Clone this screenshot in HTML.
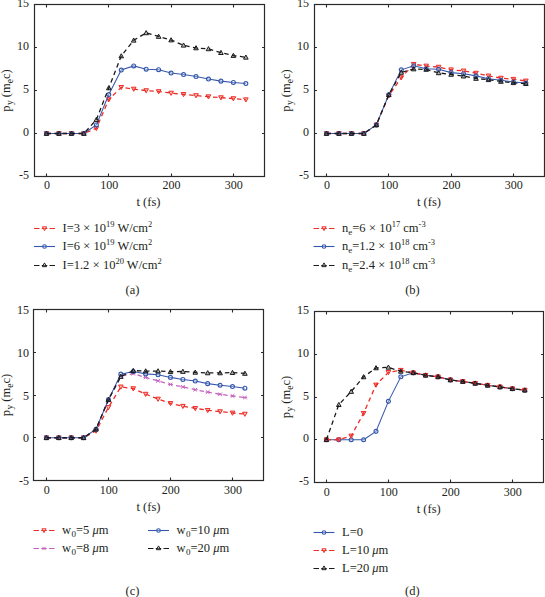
<!DOCTYPE html>
<html><head><meta charset="utf-8"><style>
html,body{margin:0;padding:0;background:#fff;}
body{width:545px;height:597px;overflow:hidden;}
svg{display:block;}
text{font-family:"Liberation Serif",serif;fill:#231f20;}
.tl{font-size:12px;}
.al{font-size:12.5px;}
.lg{font-size:12.5px;}
</style></head><body>
<svg width="545" height="597" viewBox="0 0 545 597">
<polyline points="46.50,133.50 58.96,133.50 71.42,133.50 83.88,133.50 96.34,128.34 108.80,99.53 121.26,87.32 133.72,89.04 146.18,90.59 158.64,91.53 171.10,93.08 183.56,94.37 196.02,95.57 208.48,96.69 220.94,97.64 233.40,98.58 245.86,99.70" fill="none" stroke="#ee2b24" stroke-width="1.3" stroke-dasharray="4.5 3.5"/>
<path d="M46.50 135.80L48.80 131.66L44.20 131.66Z" fill="#ee2b24" fill-opacity="0.30" stroke="#ee2b24" stroke-width="1"/>
<path d="M58.96 135.80L61.26 131.66L56.66 131.66Z" fill="#ee2b24" fill-opacity="0.30" stroke="#ee2b24" stroke-width="1"/>
<path d="M71.42 135.80L73.72 131.66L69.12 131.66Z" fill="#ee2b24" fill-opacity="0.30" stroke="#ee2b24" stroke-width="1"/>
<path d="M83.88 135.80L86.18 131.66L81.58 131.66Z" fill="#ee2b24" fill-opacity="0.30" stroke="#ee2b24" stroke-width="1"/>
<path d="M96.34 130.64L98.64 126.50L94.04 126.50Z" fill="#ee2b24" fill-opacity="0.30" stroke="#ee2b24" stroke-width="1"/>
<path d="M108.80 101.83L111.10 97.69L106.50 97.69Z" fill="#ee2b24" fill-opacity="0.30" stroke="#ee2b24" stroke-width="1"/>
<path d="M121.26 89.62L123.56 85.48L118.96 85.48Z" fill="#ee2b24" fill-opacity="0.30" stroke="#ee2b24" stroke-width="1"/>
<path d="M133.72 91.34L136.02 87.20L131.42 87.20Z" fill="#ee2b24" fill-opacity="0.30" stroke="#ee2b24" stroke-width="1"/>
<path d="M146.18 92.89L148.48 88.75L143.88 88.75Z" fill="#ee2b24" fill-opacity="0.30" stroke="#ee2b24" stroke-width="1"/>
<path d="M158.64 93.83L160.94 89.69L156.34 89.69Z" fill="#ee2b24" fill-opacity="0.30" stroke="#ee2b24" stroke-width="1"/>
<path d="M171.10 95.38L173.40 91.24L168.80 91.24Z" fill="#ee2b24" fill-opacity="0.30" stroke="#ee2b24" stroke-width="1"/>
<path d="M183.56 96.67L185.86 92.53L181.26 92.53Z" fill="#ee2b24" fill-opacity="0.30" stroke="#ee2b24" stroke-width="1"/>
<path d="M196.02 97.87L198.32 93.73L193.72 93.73Z" fill="#ee2b24" fill-opacity="0.30" stroke="#ee2b24" stroke-width="1"/>
<path d="M208.48 98.99L210.78 94.85L206.18 94.85Z" fill="#ee2b24" fill-opacity="0.30" stroke="#ee2b24" stroke-width="1"/>
<path d="M220.94 99.94L223.24 95.80L218.64 95.80Z" fill="#ee2b24" fill-opacity="0.30" stroke="#ee2b24" stroke-width="1"/>
<path d="M233.40 100.88L235.70 96.74L231.10 96.74Z" fill="#ee2b24" fill-opacity="0.30" stroke="#ee2b24" stroke-width="1"/>
<path d="M245.86 102.00L248.16 97.86L243.56 97.86Z" fill="#ee2b24" fill-opacity="0.30" stroke="#ee2b24" stroke-width="1"/>
<polyline points="46.50,133.50 58.96,133.50 71.42,133.50 83.88,133.50 96.34,124.90 108.80,94.54 121.26,70.03 133.72,65.90 146.18,69.17 158.64,69.69 171.10,73.04 183.56,74.50 196.02,76.57 208.48,79.06 220.94,81.13 233.40,82.42 245.86,83.53" fill="none" stroke="#3558ac" stroke-width="1.05"/>
<circle cx="46.50" cy="133.50" r="1.95" fill="white" fill-opacity="0.30" stroke="#3558ac" stroke-width="1.15"/>
<circle cx="58.96" cy="133.50" r="1.95" fill="white" fill-opacity="0.30" stroke="#3558ac" stroke-width="1.15"/>
<circle cx="71.42" cy="133.50" r="1.95" fill="white" fill-opacity="0.30" stroke="#3558ac" stroke-width="1.15"/>
<circle cx="83.88" cy="133.50" r="1.95" fill="white" fill-opacity="0.30" stroke="#3558ac" stroke-width="1.15"/>
<circle cx="96.34" cy="124.90" r="1.95" fill="white" fill-opacity="0.30" stroke="#3558ac" stroke-width="1.15"/>
<circle cx="108.80" cy="94.54" r="1.95" fill="white" fill-opacity="0.30" stroke="#3558ac" stroke-width="1.15"/>
<circle cx="121.26" cy="70.03" r="1.95" fill="white" fill-opacity="0.30" stroke="#3558ac" stroke-width="1.15"/>
<circle cx="133.72" cy="65.90" r="1.95" fill="white" fill-opacity="0.30" stroke="#3558ac" stroke-width="1.15"/>
<circle cx="146.18" cy="69.17" r="1.95" fill="white" fill-opacity="0.30" stroke="#3558ac" stroke-width="1.15"/>
<circle cx="158.64" cy="69.69" r="1.95" fill="white" fill-opacity="0.30" stroke="#3558ac" stroke-width="1.15"/>
<circle cx="171.10" cy="73.04" r="1.95" fill="white" fill-opacity="0.30" stroke="#3558ac" stroke-width="1.15"/>
<circle cx="183.56" cy="74.50" r="1.95" fill="white" fill-opacity="0.30" stroke="#3558ac" stroke-width="1.15"/>
<circle cx="196.02" cy="76.57" r="1.95" fill="white" fill-opacity="0.30" stroke="#3558ac" stroke-width="1.15"/>
<circle cx="208.48" cy="79.06" r="1.95" fill="white" fill-opacity="0.30" stroke="#3558ac" stroke-width="1.15"/>
<circle cx="220.94" cy="81.13" r="1.95" fill="white" fill-opacity="0.30" stroke="#3558ac" stroke-width="1.15"/>
<circle cx="233.40" cy="82.42" r="1.95" fill="white" fill-opacity="0.30" stroke="#3558ac" stroke-width="1.15"/>
<circle cx="245.86" cy="83.53" r="1.95" fill="white" fill-opacity="0.30" stroke="#3558ac" stroke-width="1.15"/>
<polyline points="46.50,133.50 58.96,133.50 71.42,133.50 83.88,133.50 96.34,119.74 108.80,87.92 121.26,56.01 133.72,40.28 146.18,32.88 158.64,36.49 171.10,40.02 183.56,45.26 196.02,47.93 208.48,48.88 220.94,52.66 233.40,55.58 245.86,57.30" fill="none" stroke="#1a1a1a" stroke-width="1.3" stroke-dasharray="4.5 3.5"/>
<path d="M46.50 131.20L48.80 135.34L44.20 135.34Z" fill="#1a1a1a" fill-opacity="0.30" stroke="#1a1a1a" stroke-width="1"/>
<path d="M58.96 131.20L61.26 135.34L56.66 135.34Z" fill="#1a1a1a" fill-opacity="0.30" stroke="#1a1a1a" stroke-width="1"/>
<path d="M71.42 131.20L73.72 135.34L69.12 135.34Z" fill="#1a1a1a" fill-opacity="0.30" stroke="#1a1a1a" stroke-width="1"/>
<path d="M83.88 131.20L86.18 135.34L81.58 135.34Z" fill="#1a1a1a" fill-opacity="0.30" stroke="#1a1a1a" stroke-width="1"/>
<path d="M96.34 117.44L98.64 121.58L94.04 121.58Z" fill="#1a1a1a" fill-opacity="0.30" stroke="#1a1a1a" stroke-width="1"/>
<path d="M108.80 85.62L111.10 89.76L106.50 89.76Z" fill="#1a1a1a" fill-opacity="0.30" stroke="#1a1a1a" stroke-width="1"/>
<path d="M121.26 53.71L123.56 57.85L118.96 57.85Z" fill="#1a1a1a" fill-opacity="0.30" stroke="#1a1a1a" stroke-width="1"/>
<path d="M133.72 37.98L136.02 42.12L131.42 42.12Z" fill="#1a1a1a" fill-opacity="0.30" stroke="#1a1a1a" stroke-width="1"/>
<path d="M146.18 30.58L148.48 34.72L143.88 34.72Z" fill="#1a1a1a" fill-opacity="0.30" stroke="#1a1a1a" stroke-width="1"/>
<path d="M158.64 34.19L160.94 38.33L156.34 38.33Z" fill="#1a1a1a" fill-opacity="0.30" stroke="#1a1a1a" stroke-width="1"/>
<path d="M171.10 37.72L173.40 41.86L168.80 41.86Z" fill="#1a1a1a" fill-opacity="0.30" stroke="#1a1a1a" stroke-width="1"/>
<path d="M183.56 42.96L185.86 47.10L181.26 47.10Z" fill="#1a1a1a" fill-opacity="0.30" stroke="#1a1a1a" stroke-width="1"/>
<path d="M196.02 45.63L198.32 49.77L193.72 49.77Z" fill="#1a1a1a" fill-opacity="0.30" stroke="#1a1a1a" stroke-width="1"/>
<path d="M208.48 46.58L210.78 50.72L206.18 50.72Z" fill="#1a1a1a" fill-opacity="0.30" stroke="#1a1a1a" stroke-width="1"/>
<path d="M220.94 50.36L223.24 54.50L218.64 54.50Z" fill="#1a1a1a" fill-opacity="0.30" stroke="#1a1a1a" stroke-width="1"/>
<path d="M233.40 53.28L235.70 57.42L231.10 57.42Z" fill="#1a1a1a" fill-opacity="0.30" stroke="#1a1a1a" stroke-width="1"/>
<path d="M245.86 55.00L248.16 59.14L243.56 59.14Z" fill="#1a1a1a" fill-opacity="0.30" stroke="#1a1a1a" stroke-width="1"/>
<rect x="34.5" y="4.5" width="230.0" height="172.0" fill="none" stroke="#2a2a2a" stroke-width="1.2"/>
<path d="M46.50 176.5v-3M46.50 4.5v3M108.50 176.5v-3M108.50 4.5v3M171.50 176.5v-3M171.50 4.5v3M233.50 176.5v-3M233.50 4.5v3M34.5 176.50h2.5M264.5 176.50h-2.5M34.5 133.50h2.5M264.5 133.50h-2.5M34.5 90.50h2.5M264.5 90.50h-2.5M34.5 47.50h2.5M264.5 47.50h-2.5M34.5 4.50h2.5M264.5 4.50h-2.5" stroke="#2a2a2a" stroke-width="1.1" fill="none"/>
<text x="46.90" y="189.0" text-anchor="middle" class="tl">0</text>
<text x="109.20" y="189.0" text-anchor="middle" class="tl">100</text>
<text x="171.50" y="189.0" text-anchor="middle" class="tl">200</text>
<text x="233.80" y="189.0" text-anchor="middle" class="tl">300</text>
<text x="29.0" y="179.00" text-anchor="end" class="tl">-5</text>
<text x="29.0" y="136.00" text-anchor="end" class="tl">0</text>
<text x="29.0" y="93.00" text-anchor="end" class="tl">5</text>
<text x="29.0" y="50.00" text-anchor="end" class="tl">10</text>
<text x="29.0" y="7.00" text-anchor="end" class="tl">15</text>
<polyline points="326.50,133.50 338.96,133.50 351.42,133.50 363.88,133.50 376.34,124.90 388.80,95.66 401.26,77.60 413.72,64.27 426.18,65.99 438.64,67.11 451.10,69.77 463.56,70.89 476.02,73.13 488.48,75.88 500.94,78.12 513.40,79.23 525.86,80.95" fill="none" stroke="#ee2b24" stroke-width="1.3" stroke-dasharray="4.5 3.5"/>
<path d="M326.50 135.80L328.80 131.66L324.20 131.66Z" fill="#ee2b24" fill-opacity="0.30" stroke="#ee2b24" stroke-width="1"/>
<path d="M338.96 135.80L341.26 131.66L336.66 131.66Z" fill="#ee2b24" fill-opacity="0.30" stroke="#ee2b24" stroke-width="1"/>
<path d="M351.42 135.80L353.72 131.66L349.12 131.66Z" fill="#ee2b24" fill-opacity="0.30" stroke="#ee2b24" stroke-width="1"/>
<path d="M363.88 135.80L366.18 131.66L361.58 131.66Z" fill="#ee2b24" fill-opacity="0.30" stroke="#ee2b24" stroke-width="1"/>
<path d="M376.34 127.20L378.64 123.06L374.04 123.06Z" fill="#ee2b24" fill-opacity="0.30" stroke="#ee2b24" stroke-width="1"/>
<path d="M388.80 97.96L391.10 93.82L386.50 93.82Z" fill="#ee2b24" fill-opacity="0.30" stroke="#ee2b24" stroke-width="1"/>
<path d="M401.26 79.90L403.56 75.76L398.96 75.76Z" fill="#ee2b24" fill-opacity="0.30" stroke="#ee2b24" stroke-width="1"/>
<path d="M413.72 66.57L416.02 62.43L411.42 62.43Z" fill="#ee2b24" fill-opacity="0.30" stroke="#ee2b24" stroke-width="1"/>
<path d="M426.18 68.29L428.48 64.15L423.88 64.15Z" fill="#ee2b24" fill-opacity="0.30" stroke="#ee2b24" stroke-width="1"/>
<path d="M438.64 69.41L440.94 65.27L436.34 65.27Z" fill="#ee2b24" fill-opacity="0.30" stroke="#ee2b24" stroke-width="1"/>
<path d="M451.10 72.07L453.40 67.93L448.80 67.93Z" fill="#ee2b24" fill-opacity="0.30" stroke="#ee2b24" stroke-width="1"/>
<path d="M463.56 73.19L465.86 69.05L461.26 69.05Z" fill="#ee2b24" fill-opacity="0.30" stroke="#ee2b24" stroke-width="1"/>
<path d="M476.02 75.43L478.32 71.29L473.72 71.29Z" fill="#ee2b24" fill-opacity="0.30" stroke="#ee2b24" stroke-width="1"/>
<path d="M488.48 78.18L490.78 74.04L486.18 74.04Z" fill="#ee2b24" fill-opacity="0.30" stroke="#ee2b24" stroke-width="1"/>
<path d="M500.94 80.42L503.24 76.28L498.64 76.28Z" fill="#ee2b24" fill-opacity="0.30" stroke="#ee2b24" stroke-width="1"/>
<path d="M513.40 81.53L515.70 77.39L511.10 77.39Z" fill="#ee2b24" fill-opacity="0.30" stroke="#ee2b24" stroke-width="1"/>
<path d="M525.86 83.25L528.16 79.11L523.56 79.11Z" fill="#ee2b24" fill-opacity="0.30" stroke="#ee2b24" stroke-width="1"/>
<polyline points="326.50,133.50 338.96,133.50 351.42,133.50 363.88,133.50 376.34,124.90 388.80,94.80 401.26,69.86 413.72,65.82 426.18,68.74 438.64,69.26 451.10,72.61 463.56,73.73 476.02,75.88 488.48,78.72 500.94,80.27 513.40,81.99 525.86,83.10" fill="none" stroke="#3558ac" stroke-width="1.05"/>
<circle cx="326.50" cy="133.50" r="1.95" fill="white" fill-opacity="0.30" stroke="#3558ac" stroke-width="1.15"/>
<circle cx="338.96" cy="133.50" r="1.95" fill="white" fill-opacity="0.30" stroke="#3558ac" stroke-width="1.15"/>
<circle cx="351.42" cy="133.50" r="1.95" fill="white" fill-opacity="0.30" stroke="#3558ac" stroke-width="1.15"/>
<circle cx="363.88" cy="133.50" r="1.95" fill="white" fill-opacity="0.30" stroke="#3558ac" stroke-width="1.15"/>
<circle cx="376.34" cy="124.90" r="1.95" fill="white" fill-opacity="0.30" stroke="#3558ac" stroke-width="1.15"/>
<circle cx="388.80" cy="94.80" r="1.95" fill="white" fill-opacity="0.30" stroke="#3558ac" stroke-width="1.15"/>
<circle cx="401.26" cy="69.86" r="1.95" fill="white" fill-opacity="0.30" stroke="#3558ac" stroke-width="1.15"/>
<circle cx="413.72" cy="65.82" r="1.95" fill="white" fill-opacity="0.30" stroke="#3558ac" stroke-width="1.15"/>
<circle cx="426.18" cy="68.74" r="1.95" fill="white" fill-opacity="0.30" stroke="#3558ac" stroke-width="1.15"/>
<circle cx="438.64" cy="69.26" r="1.95" fill="white" fill-opacity="0.30" stroke="#3558ac" stroke-width="1.15"/>
<circle cx="451.10" cy="72.61" r="1.95" fill="white" fill-opacity="0.30" stroke="#3558ac" stroke-width="1.15"/>
<circle cx="463.56" cy="73.73" r="1.95" fill="white" fill-opacity="0.30" stroke="#3558ac" stroke-width="1.15"/>
<circle cx="476.02" cy="75.88" r="1.95" fill="white" fill-opacity="0.30" stroke="#3558ac" stroke-width="1.15"/>
<circle cx="488.48" cy="78.72" r="1.95" fill="white" fill-opacity="0.30" stroke="#3558ac" stroke-width="1.15"/>
<circle cx="500.94" cy="80.27" r="1.95" fill="white" fill-opacity="0.30" stroke="#3558ac" stroke-width="1.15"/>
<circle cx="513.40" cy="81.99" r="1.95" fill="white" fill-opacity="0.30" stroke="#3558ac" stroke-width="1.15"/>
<circle cx="525.86" cy="83.10" r="1.95" fill="white" fill-opacity="0.30" stroke="#3558ac" stroke-width="1.15"/>
<polyline points="326.50,133.50 338.96,133.50 351.42,133.50 363.88,133.50 376.34,124.90 388.80,94.80 401.26,72.44 413.72,69.00 426.18,69.43 438.64,72.87 451.10,74.42 463.56,76.14 476.02,78.46 488.48,79.75 500.94,81.47 513.40,82.76 525.86,83.62" fill="none" stroke="#1a1a1a" stroke-width="1.3" stroke-dasharray="4.5 3.5"/>
<path d="M326.50 131.20L328.80 135.34L324.20 135.34Z" fill="#1a1a1a" fill-opacity="0.30" stroke="#1a1a1a" stroke-width="1"/>
<path d="M338.96 131.20L341.26 135.34L336.66 135.34Z" fill="#1a1a1a" fill-opacity="0.30" stroke="#1a1a1a" stroke-width="1"/>
<path d="M351.42 131.20L353.72 135.34L349.12 135.34Z" fill="#1a1a1a" fill-opacity="0.30" stroke="#1a1a1a" stroke-width="1"/>
<path d="M363.88 131.20L366.18 135.34L361.58 135.34Z" fill="#1a1a1a" fill-opacity="0.30" stroke="#1a1a1a" stroke-width="1"/>
<path d="M376.34 122.60L378.64 126.74L374.04 126.74Z" fill="#1a1a1a" fill-opacity="0.30" stroke="#1a1a1a" stroke-width="1"/>
<path d="M388.80 92.50L391.10 96.64L386.50 96.64Z" fill="#1a1a1a" fill-opacity="0.30" stroke="#1a1a1a" stroke-width="1"/>
<path d="M401.26 70.14L403.56 74.28L398.96 74.28Z" fill="#1a1a1a" fill-opacity="0.30" stroke="#1a1a1a" stroke-width="1"/>
<path d="M413.72 66.70L416.02 70.84L411.42 70.84Z" fill="#1a1a1a" fill-opacity="0.30" stroke="#1a1a1a" stroke-width="1"/>
<path d="M426.18 67.13L428.48 71.27L423.88 71.27Z" fill="#1a1a1a" fill-opacity="0.30" stroke="#1a1a1a" stroke-width="1"/>
<path d="M438.64 70.57L440.94 74.71L436.34 74.71Z" fill="#1a1a1a" fill-opacity="0.30" stroke="#1a1a1a" stroke-width="1"/>
<path d="M451.10 72.12L453.40 76.26L448.80 76.26Z" fill="#1a1a1a" fill-opacity="0.30" stroke="#1a1a1a" stroke-width="1"/>
<path d="M463.56 73.84L465.86 77.98L461.26 77.98Z" fill="#1a1a1a" fill-opacity="0.30" stroke="#1a1a1a" stroke-width="1"/>
<path d="M476.02 76.16L478.32 80.30L473.72 80.30Z" fill="#1a1a1a" fill-opacity="0.30" stroke="#1a1a1a" stroke-width="1"/>
<path d="M488.48 77.45L490.78 81.59L486.18 81.59Z" fill="#1a1a1a" fill-opacity="0.30" stroke="#1a1a1a" stroke-width="1"/>
<path d="M500.94 79.17L503.24 83.31L498.64 83.31Z" fill="#1a1a1a" fill-opacity="0.30" stroke="#1a1a1a" stroke-width="1"/>
<path d="M513.40 80.46L515.70 84.60L511.10 84.60Z" fill="#1a1a1a" fill-opacity="0.30" stroke="#1a1a1a" stroke-width="1"/>
<path d="M525.86 81.32L528.16 85.46L523.56 85.46Z" fill="#1a1a1a" fill-opacity="0.30" stroke="#1a1a1a" stroke-width="1"/>
<rect x="314.5" y="4.5" width="230.0" height="172.0" fill="none" stroke="#2a2a2a" stroke-width="1.2"/>
<path d="M326.50 176.5v-3M326.50 4.5v3M388.50 176.5v-3M388.50 4.5v3M451.50 176.5v-3M451.50 4.5v3M513.50 176.5v-3M513.50 4.5v3M314.5 176.50h2.5M544.5 176.50h-2.5M314.5 133.50h2.5M544.5 133.50h-2.5M314.5 90.50h2.5M544.5 90.50h-2.5M314.5 47.50h2.5M544.5 47.50h-2.5M314.5 4.50h2.5M544.5 4.50h-2.5" stroke="#2a2a2a" stroke-width="1.1" fill="none"/>
<text x="326.90" y="189.0" text-anchor="middle" class="tl">0</text>
<text x="389.20" y="189.0" text-anchor="middle" class="tl">100</text>
<text x="451.50" y="189.0" text-anchor="middle" class="tl">200</text>
<text x="513.80" y="189.0" text-anchor="middle" class="tl">300</text>
<text x="309.0" y="179.00" text-anchor="end" class="tl">-5</text>
<text x="309.0" y="136.00" text-anchor="end" class="tl">0</text>
<text x="309.0" y="93.00" text-anchor="end" class="tl">5</text>
<text x="309.0" y="50.00" text-anchor="end" class="tl">10</text>
<text x="309.0" y="7.00" text-anchor="end" class="tl">15</text>
<polyline points="46.40,437.75 58.81,437.75 71.21,437.75 83.62,437.75 96.02,430.91 108.43,407.40 120.84,386.88 133.24,388.59 145.65,394.14 158.05,399.02 170.46,403.38 182.87,406.20 195.27,408.34 207.68,410.30 220.08,411.59 232.49,412.96 244.90,414.07" fill="none" stroke="#ee2b24" stroke-width="1.3" stroke-dasharray="4.5 3.5"/>
<path d="M46.40 440.05L48.70 435.91L44.10 435.91Z" fill="#ee2b24" fill-opacity="0.30" stroke="#ee2b24" stroke-width="1"/>
<path d="M58.81 440.05L61.11 435.91L56.51 435.91Z" fill="#ee2b24" fill-opacity="0.30" stroke="#ee2b24" stroke-width="1"/>
<path d="M71.21 440.05L73.51 435.91L68.91 435.91Z" fill="#ee2b24" fill-opacity="0.30" stroke="#ee2b24" stroke-width="1"/>
<path d="M83.62 440.05L85.92 435.91L81.32 435.91Z" fill="#ee2b24" fill-opacity="0.30" stroke="#ee2b24" stroke-width="1"/>
<path d="M96.02 433.21L98.32 429.07L93.72 429.07Z" fill="#ee2b24" fill-opacity="0.30" stroke="#ee2b24" stroke-width="1"/>
<path d="M108.43 409.70L110.73 405.56L106.13 405.56Z" fill="#ee2b24" fill-opacity="0.30" stroke="#ee2b24" stroke-width="1"/>
<path d="M120.84 389.18L123.14 385.04L118.54 385.04Z" fill="#ee2b24" fill-opacity="0.30" stroke="#ee2b24" stroke-width="1"/>
<path d="M133.24 390.89L135.54 386.75L130.94 386.75Z" fill="#ee2b24" fill-opacity="0.30" stroke="#ee2b24" stroke-width="1"/>
<path d="M145.65 396.44L147.95 392.31L143.35 392.31Z" fill="#ee2b24" fill-opacity="0.30" stroke="#ee2b24" stroke-width="1"/>
<path d="M158.05 401.32L160.35 397.18L155.75 397.18Z" fill="#ee2b24" fill-opacity="0.30" stroke="#ee2b24" stroke-width="1"/>
<path d="M170.46 405.68L172.76 401.54L168.16 401.54Z" fill="#ee2b24" fill-opacity="0.30" stroke="#ee2b24" stroke-width="1"/>
<path d="M182.87 408.50L185.17 404.36L180.57 404.36Z" fill="#ee2b24" fill-opacity="0.30" stroke="#ee2b24" stroke-width="1"/>
<path d="M195.27 410.64L197.57 406.50L192.97 406.50Z" fill="#ee2b24" fill-opacity="0.30" stroke="#ee2b24" stroke-width="1"/>
<path d="M207.68 412.60L209.98 408.46L205.38 408.46Z" fill="#ee2b24" fill-opacity="0.30" stroke="#ee2b24" stroke-width="1"/>
<path d="M220.08 413.89L222.38 409.75L217.78 409.75Z" fill="#ee2b24" fill-opacity="0.30" stroke="#ee2b24" stroke-width="1"/>
<path d="M232.49 415.26L234.79 411.12L230.19 411.12Z" fill="#ee2b24" fill-opacity="0.30" stroke="#ee2b24" stroke-width="1"/>
<path d="M244.90 416.37L247.20 412.23L242.60 412.23Z" fill="#ee2b24" fill-opacity="0.30" stroke="#ee2b24" stroke-width="1"/>
<polyline points="46.40,437.75 58.81,437.75 71.21,437.75 83.62,437.75 96.02,429.20 108.43,399.70 120.84,376.19 133.24,373.62 145.65,377.47 158.05,380.89 170.46,384.40 182.87,386.88 195.27,389.70 207.68,392.09 220.08,394.32 232.49,395.94 244.90,397.56" fill="none" stroke="#c565c0" stroke-width="1.3" stroke-dasharray="4.5 3.5"/>
<path d="M44.56 435.91l3.68 3.68M44.56 439.59l3.68 -3.68M44.10 437.75h4.60" stroke="#c565c0" stroke-width="1" fill="none"/>
<path d="M56.97 435.91l3.68 3.68M56.97 439.59l3.68 -3.68M56.51 437.75h4.60" stroke="#c565c0" stroke-width="1" fill="none"/>
<path d="M69.37 435.91l3.68 3.68M69.37 439.59l3.68 -3.68M68.91 437.75h4.60" stroke="#c565c0" stroke-width="1" fill="none"/>
<path d="M81.78 435.91l3.68 3.68M81.78 439.59l3.68 -3.68M81.32 437.75h4.60" stroke="#c565c0" stroke-width="1" fill="none"/>
<path d="M94.18 427.36l3.68 3.68M94.18 431.04l3.68 -3.68M93.72 429.20h4.60" stroke="#c565c0" stroke-width="1" fill="none"/>
<path d="M106.59 397.86l3.68 3.68M106.59 401.54l3.68 -3.68M106.13 399.70h4.60" stroke="#c565c0" stroke-width="1" fill="none"/>
<path d="M119.00 374.35l3.68 3.68M119.00 378.03l3.68 -3.68M118.54 376.19h4.60" stroke="#c565c0" stroke-width="1" fill="none"/>
<path d="M131.40 371.79l3.68 3.68M131.40 375.46l3.68 -3.68M130.94 373.62h4.60" stroke="#c565c0" stroke-width="1" fill="none"/>
<path d="M143.81 375.63l3.68 3.68M143.81 379.31l3.68 -3.68M143.35 377.47h4.60" stroke="#c565c0" stroke-width="1" fill="none"/>
<path d="M156.21 379.05l3.68 3.68M156.21 382.73l3.68 -3.68M155.75 380.89h4.60" stroke="#c565c0" stroke-width="1" fill="none"/>
<path d="M168.62 382.56l3.68 3.68M168.62 386.24l3.68 -3.68M168.16 384.40h4.60" stroke="#c565c0" stroke-width="1" fill="none"/>
<path d="M181.03 385.04l3.68 3.68M181.03 388.72l3.68 -3.68M180.57 386.88h4.60" stroke="#c565c0" stroke-width="1" fill="none"/>
<path d="M193.43 387.86l3.68 3.68M193.43 391.54l3.68 -3.68M192.97 389.70h4.60" stroke="#c565c0" stroke-width="1" fill="none"/>
<path d="M205.84 390.25l3.68 3.68M205.84 393.93l3.68 -3.68M205.38 392.09h4.60" stroke="#c565c0" stroke-width="1" fill="none"/>
<path d="M218.24 392.48l3.68 3.68M218.24 396.16l3.68 -3.68M217.78 394.32h4.60" stroke="#c565c0" stroke-width="1" fill="none"/>
<path d="M230.65 394.10l3.68 3.68M230.65 397.78l3.68 -3.68M230.19 395.94h4.60" stroke="#c565c0" stroke-width="1" fill="none"/>
<path d="M243.06 395.73l3.68 3.68M243.06 399.40l3.68 -3.68M242.60 397.56h4.60" stroke="#c565c0" stroke-width="1" fill="none"/>
<polyline points="46.40,437.75 58.81,437.75 71.21,437.75 83.62,437.75 96.02,429.20 108.43,399.70 120.84,374.14 133.24,371.49 145.65,373.88 158.05,374.82 170.46,377.39 182.87,379.44 195.27,381.06 207.68,383.63 220.08,385.25 232.49,386.54 244.90,388.16" fill="none" stroke="#3558ac" stroke-width="1.05"/>
<circle cx="46.40" cy="437.75" r="1.95" fill="white" fill-opacity="0.30" stroke="#3558ac" stroke-width="1.15"/>
<circle cx="58.81" cy="437.75" r="1.95" fill="white" fill-opacity="0.30" stroke="#3558ac" stroke-width="1.15"/>
<circle cx="71.21" cy="437.75" r="1.95" fill="white" fill-opacity="0.30" stroke="#3558ac" stroke-width="1.15"/>
<circle cx="83.62" cy="437.75" r="1.95" fill="white" fill-opacity="0.30" stroke="#3558ac" stroke-width="1.15"/>
<circle cx="96.02" cy="429.20" r="1.95" fill="white" fill-opacity="0.30" stroke="#3558ac" stroke-width="1.15"/>
<circle cx="108.43" cy="399.70" r="1.95" fill="white" fill-opacity="0.30" stroke="#3558ac" stroke-width="1.15"/>
<circle cx="120.84" cy="374.14" r="1.95" fill="white" fill-opacity="0.30" stroke="#3558ac" stroke-width="1.15"/>
<circle cx="133.24" cy="371.49" r="1.95" fill="white" fill-opacity="0.30" stroke="#3558ac" stroke-width="1.15"/>
<circle cx="145.65" cy="373.88" r="1.95" fill="white" fill-opacity="0.30" stroke="#3558ac" stroke-width="1.15"/>
<circle cx="158.05" cy="374.82" r="1.95" fill="white" fill-opacity="0.30" stroke="#3558ac" stroke-width="1.15"/>
<circle cx="170.46" cy="377.39" r="1.95" fill="white" fill-opacity="0.30" stroke="#3558ac" stroke-width="1.15"/>
<circle cx="182.87" cy="379.44" r="1.95" fill="white" fill-opacity="0.30" stroke="#3558ac" stroke-width="1.15"/>
<circle cx="195.27" cy="381.06" r="1.95" fill="white" fill-opacity="0.30" stroke="#3558ac" stroke-width="1.15"/>
<circle cx="207.68" cy="383.63" r="1.95" fill="white" fill-opacity="0.30" stroke="#3558ac" stroke-width="1.15"/>
<circle cx="220.08" cy="385.25" r="1.95" fill="white" fill-opacity="0.30" stroke="#3558ac" stroke-width="1.15"/>
<circle cx="232.49" cy="386.54" r="1.95" fill="white" fill-opacity="0.30" stroke="#3558ac" stroke-width="1.15"/>
<circle cx="244.90" cy="388.16" r="1.95" fill="white" fill-opacity="0.30" stroke="#3558ac" stroke-width="1.15"/>
<polyline points="46.40,437.75 58.81,437.75 71.21,437.75 83.62,437.75 96.02,429.20 108.43,399.70 120.84,376.53 133.24,370.63 145.65,371.06 158.05,371.06 170.46,371.74 182.87,371.49 195.27,372.34 207.68,372.94 220.08,372.94 232.49,372.60 244.90,373.45" fill="none" stroke="#1a1a1a" stroke-width="1.3" stroke-dasharray="4.5 3.5"/>
<path d="M46.40 435.45L48.70 439.59L44.10 439.59Z" fill="#1a1a1a" fill-opacity="0.30" stroke="#1a1a1a" stroke-width="1"/>
<path d="M58.81 435.45L61.11 439.59L56.51 439.59Z" fill="#1a1a1a" fill-opacity="0.30" stroke="#1a1a1a" stroke-width="1"/>
<path d="M71.21 435.45L73.51 439.59L68.91 439.59Z" fill="#1a1a1a" fill-opacity="0.30" stroke="#1a1a1a" stroke-width="1"/>
<path d="M83.62 435.45L85.92 439.59L81.32 439.59Z" fill="#1a1a1a" fill-opacity="0.30" stroke="#1a1a1a" stroke-width="1"/>
<path d="M96.02 426.90L98.32 431.04L93.72 431.04Z" fill="#1a1a1a" fill-opacity="0.30" stroke="#1a1a1a" stroke-width="1"/>
<path d="M108.43 397.40L110.73 401.54L106.13 401.54Z" fill="#1a1a1a" fill-opacity="0.30" stroke="#1a1a1a" stroke-width="1"/>
<path d="M120.84 374.23L123.14 378.37L118.54 378.37Z" fill="#1a1a1a" fill-opacity="0.30" stroke="#1a1a1a" stroke-width="1"/>
<path d="M133.24 368.33L135.54 372.47L130.94 372.47Z" fill="#1a1a1a" fill-opacity="0.30" stroke="#1a1a1a" stroke-width="1"/>
<path d="M145.65 368.76L147.95 372.90L143.35 372.90Z" fill="#1a1a1a" fill-opacity="0.30" stroke="#1a1a1a" stroke-width="1"/>
<path d="M158.05 368.76L160.35 372.90L155.75 372.90Z" fill="#1a1a1a" fill-opacity="0.30" stroke="#1a1a1a" stroke-width="1"/>
<path d="M170.46 369.44L172.76 373.58L168.16 373.58Z" fill="#1a1a1a" fill-opacity="0.30" stroke="#1a1a1a" stroke-width="1"/>
<path d="M182.87 369.19L185.17 373.33L180.57 373.33Z" fill="#1a1a1a" fill-opacity="0.30" stroke="#1a1a1a" stroke-width="1"/>
<path d="M195.27 370.04L197.57 374.18L192.97 374.18Z" fill="#1a1a1a" fill-opacity="0.30" stroke="#1a1a1a" stroke-width="1"/>
<path d="M207.68 370.64L209.98 374.78L205.38 374.78Z" fill="#1a1a1a" fill-opacity="0.30" stroke="#1a1a1a" stroke-width="1"/>
<path d="M220.08 370.64L222.38 374.78L217.78 374.78Z" fill="#1a1a1a" fill-opacity="0.30" stroke="#1a1a1a" stroke-width="1"/>
<path d="M232.49 370.30L234.79 374.44L230.19 374.44Z" fill="#1a1a1a" fill-opacity="0.30" stroke="#1a1a1a" stroke-width="1"/>
<path d="M244.90 371.15L247.20 375.29L242.60 375.29Z" fill="#1a1a1a" fill-opacity="0.30" stroke="#1a1a1a" stroke-width="1"/>
<rect x="33.5" y="309.5" width="230.0" height="171.0" fill="none" stroke="#2a2a2a" stroke-width="1.2"/>
<path d="M46.50 480.5v-3M46.50 309.5v3M108.50 480.5v-3M108.50 309.5v3M170.50 480.5v-3M170.50 309.5v3M232.50 480.5v-3M232.50 309.5v3M33.5 480.50h2.5M263.5 480.50h-2.5M33.5 437.50h2.5M263.5 437.50h-2.5M33.5 395.50h2.5M263.5 395.50h-2.5M33.5 352.50h2.5M263.5 352.50h-2.5M33.5 309.50h2.5M263.5 309.50h-2.5" stroke="#2a2a2a" stroke-width="1.1" fill="none"/>
<text x="46.80" y="493.7" text-anchor="middle" class="tl">0</text>
<text x="108.83" y="493.7" text-anchor="middle" class="tl">100</text>
<text x="170.86" y="493.7" text-anchor="middle" class="tl">200</text>
<text x="232.89" y="493.7" text-anchor="middle" class="tl">300</text>
<text x="29.0" y="485.00" text-anchor="end" class="tl">-5</text>
<text x="29.0" y="442.25" text-anchor="end" class="tl">0</text>
<text x="29.0" y="399.50" text-anchor="end" class="tl">5</text>
<text x="29.0" y="356.75" text-anchor="end" class="tl">10</text>
<text x="29.0" y="314.00" text-anchor="end" class="tl">15</text>
<polyline points="326.40,439.75 338.80,439.75 351.20,439.75 363.60,439.75 376.00,431.37 388.40,401.36 400.80,376.82 413.20,372.80 425.60,375.28 438.00,376.82 450.40,379.90 462.80,381.52 475.20,383.32 487.60,385.29 500.00,386.91 512.40,388.71 524.80,390.16" fill="none" stroke="#3558ac" stroke-width="1.05"/>
<circle cx="326.40" cy="439.75" r="1.95" fill="white" fill-opacity="0.30" stroke="#3558ac" stroke-width="1.15"/>
<circle cx="338.80" cy="439.75" r="1.95" fill="white" fill-opacity="0.30" stroke="#3558ac" stroke-width="1.15"/>
<circle cx="351.20" cy="439.75" r="1.95" fill="white" fill-opacity="0.30" stroke="#3558ac" stroke-width="1.15"/>
<circle cx="363.60" cy="439.75" r="1.95" fill="white" fill-opacity="0.30" stroke="#3558ac" stroke-width="1.15"/>
<circle cx="376.00" cy="431.37" r="1.95" fill="white" fill-opacity="0.30" stroke="#3558ac" stroke-width="1.15"/>
<circle cx="388.40" cy="401.36" r="1.95" fill="white" fill-opacity="0.30" stroke="#3558ac" stroke-width="1.15"/>
<circle cx="400.80" cy="376.82" r="1.95" fill="white" fill-opacity="0.30" stroke="#3558ac" stroke-width="1.15"/>
<circle cx="413.20" cy="372.80" r="1.95" fill="white" fill-opacity="0.30" stroke="#3558ac" stroke-width="1.15"/>
<circle cx="425.60" cy="375.28" r="1.95" fill="white" fill-opacity="0.30" stroke="#3558ac" stroke-width="1.15"/>
<circle cx="438.00" cy="376.82" r="1.95" fill="white" fill-opacity="0.30" stroke="#3558ac" stroke-width="1.15"/>
<circle cx="450.40" cy="379.90" r="1.95" fill="white" fill-opacity="0.30" stroke="#3558ac" stroke-width="1.15"/>
<circle cx="462.80" cy="381.52" r="1.95" fill="white" fill-opacity="0.30" stroke="#3558ac" stroke-width="1.15"/>
<circle cx="475.20" cy="383.32" r="1.95" fill="white" fill-opacity="0.30" stroke="#3558ac" stroke-width="1.15"/>
<circle cx="487.60" cy="385.29" r="1.95" fill="white" fill-opacity="0.30" stroke="#3558ac" stroke-width="1.15"/>
<circle cx="500.00" cy="386.91" r="1.95" fill="white" fill-opacity="0.30" stroke="#3558ac" stroke-width="1.15"/>
<circle cx="512.40" cy="388.71" r="1.95" fill="white" fill-opacity="0.30" stroke="#3558ac" stroke-width="1.15"/>
<circle cx="524.80" cy="390.16" r="1.95" fill="white" fill-opacity="0.30" stroke="#3558ac" stroke-width="1.15"/>
<polyline points="326.40,439.75 338.80,439.75 351.20,435.99 363.60,413.33 376.00,384.94 388.40,372.38 400.80,370.24 413.20,372.80 425.60,375.28 438.00,376.82 450.40,379.90 462.80,381.52 475.20,383.32 487.60,385.29 500.00,386.91 512.40,388.71 524.80,390.16" fill="none" stroke="#ee2b24" stroke-width="1.3" stroke-dasharray="4.5 3.5"/>
<path d="M326.40 442.05L328.70 437.91L324.10 437.91Z" fill="#ee2b24" fill-opacity="0.30" stroke="#ee2b24" stroke-width="1"/>
<path d="M338.80 442.05L341.10 437.91L336.50 437.91Z" fill="#ee2b24" fill-opacity="0.30" stroke="#ee2b24" stroke-width="1"/>
<path d="M351.20 438.29L353.50 434.15L348.90 434.15Z" fill="#ee2b24" fill-opacity="0.30" stroke="#ee2b24" stroke-width="1"/>
<path d="M363.60 415.63L365.90 411.49L361.30 411.49Z" fill="#ee2b24" fill-opacity="0.30" stroke="#ee2b24" stroke-width="1"/>
<path d="M376.00 387.24L378.30 383.10L373.70 383.10Z" fill="#ee2b24" fill-opacity="0.30" stroke="#ee2b24" stroke-width="1"/>
<path d="M388.40 374.68L390.70 370.54L386.10 370.54Z" fill="#ee2b24" fill-opacity="0.30" stroke="#ee2b24" stroke-width="1"/>
<path d="M400.80 372.54L403.10 368.40L398.50 368.40Z" fill="#ee2b24" fill-opacity="0.30" stroke="#ee2b24" stroke-width="1"/>
<path d="M413.20 375.10L415.50 370.96L410.90 370.96Z" fill="#ee2b24" fill-opacity="0.30" stroke="#ee2b24" stroke-width="1"/>
<path d="M425.60 377.58L427.90 373.44L423.30 373.44Z" fill="#ee2b24" fill-opacity="0.30" stroke="#ee2b24" stroke-width="1"/>
<path d="M438.00 379.12L440.30 374.98L435.70 374.98Z" fill="#ee2b24" fill-opacity="0.30" stroke="#ee2b24" stroke-width="1"/>
<path d="M450.40 382.20L452.70 378.06L448.10 378.06Z" fill="#ee2b24" fill-opacity="0.30" stroke="#ee2b24" stroke-width="1"/>
<path d="M462.80 383.82L465.10 379.68L460.50 379.68Z" fill="#ee2b24" fill-opacity="0.30" stroke="#ee2b24" stroke-width="1"/>
<path d="M475.20 385.62L477.50 381.48L472.90 381.48Z" fill="#ee2b24" fill-opacity="0.30" stroke="#ee2b24" stroke-width="1"/>
<path d="M487.60 387.59L489.90 383.45L485.30 383.45Z" fill="#ee2b24" fill-opacity="0.30" stroke="#ee2b24" stroke-width="1"/>
<path d="M500.00 389.21L502.30 385.07L497.70 385.07Z" fill="#ee2b24" fill-opacity="0.30" stroke="#ee2b24" stroke-width="1"/>
<path d="M512.40 391.01L514.70 386.87L510.10 386.87Z" fill="#ee2b24" fill-opacity="0.30" stroke="#ee2b24" stroke-width="1"/>
<path d="M524.80 392.46L527.10 388.32L522.50 388.32Z" fill="#ee2b24" fill-opacity="0.30" stroke="#ee2b24" stroke-width="1"/>
<polyline points="326.40,439.75 338.80,404.69 351.20,391.53 363.60,376.91 376.00,367.93 388.40,367.33 400.80,371.35 413.20,372.80 425.60,375.28 438.00,376.82 450.40,379.90 462.80,381.52 475.20,383.32 487.60,385.29 500.00,386.91 512.40,388.71 524.80,390.16" fill="none" stroke="#1a1a1a" stroke-width="1.3" stroke-dasharray="4.5 3.5"/>
<path d="M326.40 437.45L328.70 441.59L324.10 441.59Z" fill="#1a1a1a" fill-opacity="0.30" stroke="#1a1a1a" stroke-width="1"/>
<path d="M338.80 402.39L341.10 406.53L336.50 406.53Z" fill="#1a1a1a" fill-opacity="0.30" stroke="#1a1a1a" stroke-width="1"/>
<path d="M351.20 389.23L353.50 393.37L348.90 393.37Z" fill="#1a1a1a" fill-opacity="0.30" stroke="#1a1a1a" stroke-width="1"/>
<path d="M363.60 374.61L365.90 378.75L361.30 378.75Z" fill="#1a1a1a" fill-opacity="0.30" stroke="#1a1a1a" stroke-width="1"/>
<path d="M376.00 365.63L378.30 369.77L373.70 369.77Z" fill="#1a1a1a" fill-opacity="0.30" stroke="#1a1a1a" stroke-width="1"/>
<path d="M388.40 365.03L390.70 369.17L386.10 369.17Z" fill="#1a1a1a" fill-opacity="0.30" stroke="#1a1a1a" stroke-width="1"/>
<path d="M400.80 369.05L403.10 373.19L398.50 373.19Z" fill="#1a1a1a" fill-opacity="0.30" stroke="#1a1a1a" stroke-width="1"/>
<path d="M413.20 370.50L415.50 374.64L410.90 374.64Z" fill="#1a1a1a" fill-opacity="0.30" stroke="#1a1a1a" stroke-width="1"/>
<path d="M425.60 372.98L427.90 377.12L423.30 377.12Z" fill="#1a1a1a" fill-opacity="0.30" stroke="#1a1a1a" stroke-width="1"/>
<path d="M438.00 374.52L440.30 378.66L435.70 378.66Z" fill="#1a1a1a" fill-opacity="0.30" stroke="#1a1a1a" stroke-width="1"/>
<path d="M450.40 377.60L452.70 381.74L448.10 381.74Z" fill="#1a1a1a" fill-opacity="0.30" stroke="#1a1a1a" stroke-width="1"/>
<path d="M462.80 379.22L465.10 383.36L460.50 383.36Z" fill="#1a1a1a" fill-opacity="0.30" stroke="#1a1a1a" stroke-width="1"/>
<path d="M475.20 381.02L477.50 385.16L472.90 385.16Z" fill="#1a1a1a" fill-opacity="0.30" stroke="#1a1a1a" stroke-width="1"/>
<path d="M487.60 382.99L489.90 387.13L485.30 387.13Z" fill="#1a1a1a" fill-opacity="0.30" stroke="#1a1a1a" stroke-width="1"/>
<path d="M500.00 384.61L502.30 388.75L497.70 388.75Z" fill="#1a1a1a" fill-opacity="0.30" stroke="#1a1a1a" stroke-width="1"/>
<path d="M512.40 386.41L514.70 390.55L510.10 390.55Z" fill="#1a1a1a" fill-opacity="0.30" stroke="#1a1a1a" stroke-width="1"/>
<path d="M524.80 387.86L527.10 392.00L522.50 392.00Z" fill="#1a1a1a" fill-opacity="0.30" stroke="#1a1a1a" stroke-width="1"/>
<rect x="314.5" y="311.5" width="229.0" height="171.0" fill="none" stroke="#2a2a2a" stroke-width="1.2"/>
<path d="M326.50 482.5v-3M326.50 311.5v3M388.50 482.5v-3M388.50 311.5v3M450.50 482.5v-3M450.50 311.5v3M512.50 482.5v-3M512.50 311.5v3M314.5 482.50h2.5M543.5 482.50h-2.5M314.5 439.50h2.5M543.5 439.50h-2.5M314.5 397.50h2.5M543.5 397.50h-2.5M314.5 354.50h2.5M543.5 354.50h-2.5M314.5 311.50h2.5M543.5 311.50h-2.5" stroke="#2a2a2a" stroke-width="1.1" fill="none"/>
<text x="326.80" y="495.7" text-anchor="middle" class="tl">0</text>
<text x="388.80" y="495.7" text-anchor="middle" class="tl">100</text>
<text x="450.80" y="495.7" text-anchor="middle" class="tl">200</text>
<text x="512.80" y="495.7" text-anchor="middle" class="tl">300</text>
<text x="309.0" y="485.00" text-anchor="end" class="tl">-5</text>
<text x="309.0" y="442.25" text-anchor="end" class="tl">0</text>
<text x="309.0" y="399.50" text-anchor="end" class="tl">5</text>
<text x="309.0" y="356.75" text-anchor="end" class="tl">10</text>
<text x="309.0" y="314.00" text-anchor="end" class="tl">15</text>
<text x="148.5" y="205.5" text-anchor="middle" class="al">t (fs)</text>
<text x="429.0" y="205.5" text-anchor="middle" class="al">t (fs)</text>
<text x="148.5" y="510.5" text-anchor="middle" class="al">t (fs)</text>
<text x="428.7" y="512.5" text-anchor="middle" class="al">t (fs)</text>
<text transform="translate(9.5 90.5) rotate(-90)" text-anchor="middle" class="al">p<tspan dx="0.3" dy="3" font-size="9.5">y</tspan><tspan dy="-3"> (m</tspan><tspan dy="3" font-size="9.5">e</tspan><tspan dy="-3">c)</tspan></text>
<text transform="translate(289.5 90.5) rotate(-90)" text-anchor="middle" class="al">p<tspan dx="0.3" dy="3" font-size="9.5">y</tspan><tspan dy="-3"> (m</tspan><tspan dy="3" font-size="9.5">e</tspan><tspan dy="-3">c)</tspan></text>
<text transform="translate(10.0 395.0) rotate(-90)" text-anchor="middle" class="al">p<tspan dx="0.3" dy="3" font-size="9.5">y</tspan><tspan dy="-3"> (m</tspan><tspan dy="3" font-size="9.5">e</tspan><tspan dy="-3">c)</tspan></text>
<text transform="translate(289.5 397.0) rotate(-90)" text-anchor="middle" class="al">p<tspan dx="0.3" dy="3" font-size="9.5">y</tspan><tspan dy="-3"> (m</tspan><tspan dy="3" font-size="9.5">e</tspan><tspan dy="-3">c)</tspan></text>
<text x="132.5" y="294.0" text-anchor="middle" class="al">(a)</text>
<text x="412.5" y="294.0" text-anchor="middle" class="al">(b)</text>
<text x="132.5" y="595.0" text-anchor="middle" class="al">(c)</text>
<text x="412.3" y="595.0" text-anchor="middle" class="al">(d)</text>
<path d="M34.0 228.5h5.5m2.25 0h5.5m2.25 0h5.5" stroke="#ee2b24" stroke-width="1.15"/>
<path d="M44.50 230.60L46.60 226.82L42.40 226.82Z" fill="white" fill-opacity="0.30" stroke="#ee2b24" stroke-width="1"/>
<text x="62.5" y="232.0" class="lg">I=3 <tspan font-size="13">×</tspan> 10<tspan dy="-5" font-size="8.5">19</tspan><tspan dy="5"> W/cm</tspan><tspan dy="-5" font-size="8.5">2</tspan><tspan dy="5"></tspan></text>
<line x1="34.0" y1="246.5" x2="55.0" y2="246.5" stroke="#3558ac" stroke-width="1.1"/>
<circle cx="44.50" cy="246.50" r="1.78" fill="white" fill-opacity="0.30" stroke="#3558ac" stroke-width="1.15"/>
<text x="62.5" y="250.0" class="lg">I=6 <tspan font-size="13">×</tspan> 10<tspan dy="-5" font-size="8.5">19</tspan><tspan dy="5"> W/cm</tspan><tspan dy="-5" font-size="8.5">2</tspan><tspan dy="5"></tspan></text>
<path d="M34.0 265.5h5.5m2.25 0h5.5m2.25 0h5.5" stroke="#1a1a1a" stroke-width="1.15"/>
<path d="M44.50 262.90L46.60 266.68L42.40 266.68Z" fill="white" fill-opacity="0.30" stroke="#1a1a1a" stroke-width="1"/>
<text x="62.5" y="269.0" class="lg">I=1.2 <tspan font-size="13">×</tspan> 10<tspan dy="-5" font-size="8.5">20</tspan><tspan dy="5"> W/cm</tspan><tspan dy="-5" font-size="8.5">2</tspan><tspan dy="5"></tspan></text>
<path d="M313.5 228.5h5.5m2.25 0h5.5m2.25 0h5.5" stroke="#ee2b24" stroke-width="1.15"/>
<path d="M324.00 230.60L326.10 226.82L321.90 226.82Z" fill="white" fill-opacity="0.30" stroke="#ee2b24" stroke-width="1"/>
<text x="342.0" y="232.0" class="lg">n<tspan dy="3" font-size="9">e</tspan><tspan dy="-3">=6 <tspan font-size="13">×</tspan> 10</tspan><tspan dy="-5" font-size="8.5">17</tspan><tspan dy="5"> cm</tspan><tspan dy="-5" font-size="8.5">-3</tspan><tspan dy="5"></tspan></text>
<line x1="313.5" y1="246.5" x2="334.5" y2="246.5" stroke="#3558ac" stroke-width="1.1"/>
<circle cx="324.00" cy="246.50" r="1.78" fill="white" fill-opacity="0.30" stroke="#3558ac" stroke-width="1.15"/>
<text x="342.0" y="250.0" class="lg">n<tspan dy="3" font-size="9">e</tspan><tspan dy="-3">=1.2 <tspan font-size="13">×</tspan> 10</tspan><tspan dy="-5" font-size="8.5">18</tspan><tspan dy="5"> cm</tspan><tspan dy="-5" font-size="8.5">-3</tspan><tspan dy="5"></tspan></text>
<path d="M313.5 265.5h5.5m2.25 0h5.5m2.25 0h5.5" stroke="#1a1a1a" stroke-width="1.15"/>
<path d="M324.00 262.90L326.10 266.68L321.90 266.68Z" fill="white" fill-opacity="0.30" stroke="#1a1a1a" stroke-width="1"/>
<text x="342.0" y="269.0" class="lg">n<tspan dy="3" font-size="9">e</tspan><tspan dy="-3">=2.4 <tspan font-size="13">×</tspan> 10</tspan><tspan dy="-5" font-size="8.5">18</tspan><tspan dy="5"> cm</tspan><tspan dy="-5" font-size="8.5">-3</tspan><tspan dy="5"></tspan></text>
<path d="M33.5 530.5h5.5m2.25 0h5.5m2.25 0h5.5" stroke="#ee2b24" stroke-width="1.15"/>
<path d="M44.00 532.60L46.10 528.82L41.90 528.82Z" fill="white" fill-opacity="0.30" stroke="#ee2b24" stroke-width="1"/>
<text x="62.0" y="534.0" class="lg">w<tspan dx="0.5" dy="3" font-size="9">0</tspan><tspan dy="-3">=5 </tspan><tspan font-style="italic">μ</tspan>m</text>
<path d="M33.5 548.5h5.5m2.25 0h5.5m2.25 0h5.5" stroke="#c565c0" stroke-width="1.15"/>
<path d="M42.32 546.82l3.36 3.36M42.32 550.18l3.36 -3.36M41.90 548.50h4.20" stroke="#c565c0" stroke-width="1" fill="none"/>
<text x="62.0" y="552.0" class="lg">w<tspan dx="0.5" dy="3" font-size="9">0</tspan><tspan dy="-3">=8 </tspan><tspan font-style="italic">μ</tspan>m</text>
<line x1="148.0" y1="530.5" x2="169.0" y2="530.5" stroke="#3558ac" stroke-width="1.1"/>
<circle cx="158.50" cy="530.50" r="1.78" fill="white" fill-opacity="0.30" stroke="#3558ac" stroke-width="1.15"/>
<text x="176.5" y="534.0" class="lg">w<tspan dx="0.5" dy="3" font-size="9">0</tspan><tspan dy="-3">=10 </tspan><tspan font-style="italic">μ</tspan>m</text>
<path d="M148.0 548.5h5.5m2.25 0h5.5m2.25 0h5.5" stroke="#1a1a1a" stroke-width="1.15"/>
<path d="M158.50 545.90L160.60 549.68L156.40 549.68Z" fill="white" fill-opacity="0.30" stroke="#1a1a1a" stroke-width="1"/>
<text x="176.5" y="552.0" class="lg">w<tspan dx="0.5" dy="3" font-size="9">0</tspan><tspan dy="-3">=20 </tspan><tspan font-style="italic">μ</tspan>m</text>
<line x1="313.5" y1="532.5" x2="334.5" y2="532.5" stroke="#3558ac" stroke-width="1.1"/>
<circle cx="324.00" cy="532.50" r="1.78" fill="white" fill-opacity="0.30" stroke="#3558ac" stroke-width="1.15"/>
<text x="342.0" y="536.0" class="lg">L=0</text>
<path d="M313.5 550.5h5.5m2.25 0h5.5m2.25 0h5.5" stroke="#ee2b24" stroke-width="1.15"/>
<path d="M324.00 552.60L326.10 548.82L321.90 548.82Z" fill="white" fill-opacity="0.30" stroke="#ee2b24" stroke-width="1"/>
<text x="342.0" y="554.0" class="lg">L=10 <tspan font-style="italic">μ</tspan>m</text>
<path d="M313.5 568.5h5.5m2.25 0h5.5m2.25 0h5.5" stroke="#1a1a1a" stroke-width="1.15"/>
<path d="M324.00 565.90L326.10 569.68L321.90 569.68Z" fill="white" fill-opacity="0.30" stroke="#1a1a1a" stroke-width="1"/>
<text x="342.0" y="572.0" class="lg">L=20 <tspan font-style="italic">μ</tspan>m</text>
</svg></body></html>
